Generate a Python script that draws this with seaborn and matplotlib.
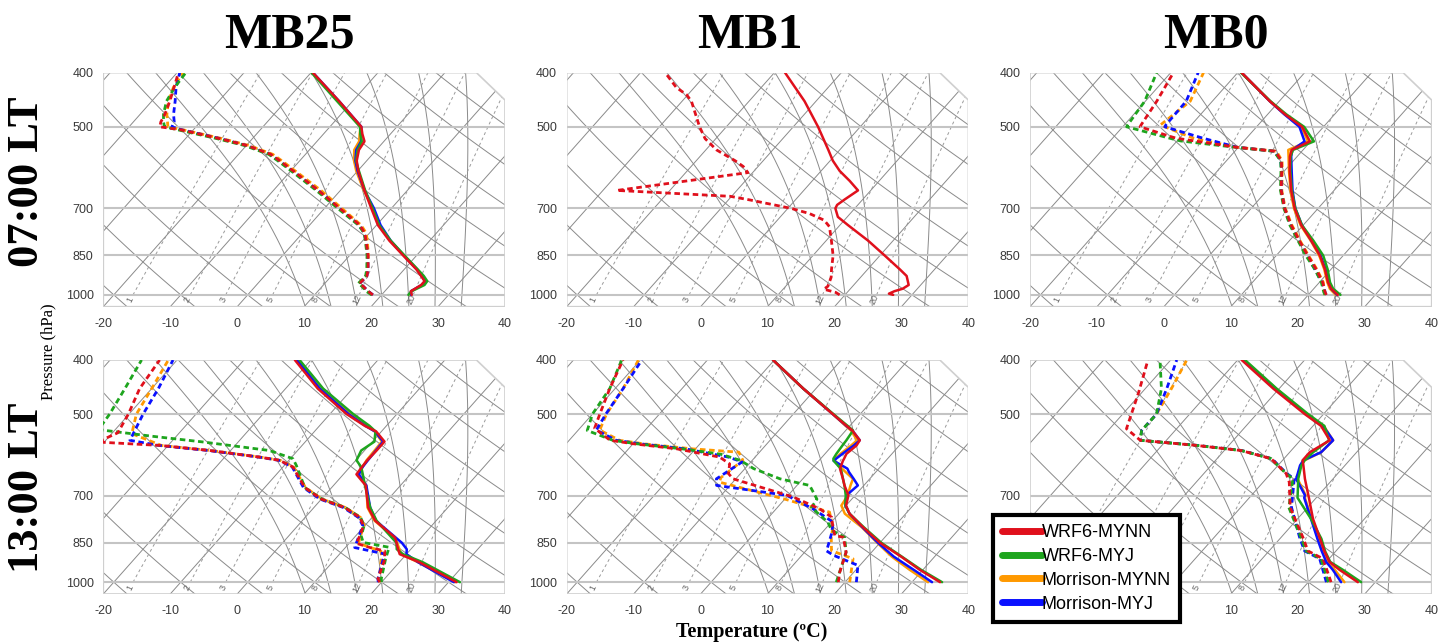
import numpy as np
import pandas as pd
import matplotlib
matplotlib.use("Agg")
import matplotlib.pyplot as plt
import seaborn as sns
from matplotlib.patches import Polygon
from matplotlib.lines import Line2D

# ---------------------------------------------------------------- data
MODELS = ["WRF6-MYNN", "WRF6-MYJ", "Morrison-MYNN", "Morrison-MYJ"]
COLORS = ["#e0101c", "#1ea51e", "#ff9900", "#0a10ff"]
STATIONS = ["MB25", "MB1", "MB0"]
TIMES = ["07:00 LT", "13:00 LT"]

# MB25, 07:00 LT -------------------------------------------------------
MB25_07_P = [1000, 985, 960, 945, 925, 900, 850, 800, 750, 700, 650, 600, 575, 550, 531, 515, 500, 450, 400]
MB25_07_T_MYNN = [24.5, 23.9, 24.6, 24.6, 23.4, 21.8, 18.0, 14.0, 10.2, 7.0, 3.6, 0.1, -1.5, -2.6, -2.9, -4.2, -5.3, -12.0, -19.7]
MB25_07_T_MYJ = [24.0, 24.0, 25.1, 25.0, 23.8, 22.0, 18.2, 14.2, 10.4, 7.2, 3.7, 0.2, -1.6, -2.8, -3.3, -4.5, -5.5, -12.3, -19.9]
MB25_07_T_MMYNN = [24.3, 23.9, 24.8, 24.8, 23.6, 21.9, 18.1, 14.1, 10.4, 7.2, 3.5, -0.2, -1.9, -3.3, -3.7, -4.6, -5.4, -12.1, -19.8]
MB25_07_T_MMYJ = [24.4, 23.9, 24.7, 24.7, 23.5, 21.9, 18.1, 14.2, 10.6, 7.4, 3.6, 0.0, -1.7, -3.0, -3.4, -4.4, -5.3, -12.0, -19.7]
MB25_07_PD = [1000, 985, 965, 955, 925, 900, 850, 800, 775, 750, 700, 650, 600, 575, 560, 540, 525, 506, 500, 490, 475, 450, 425, 400]
MB25_07_TD_MYNN = [18.7, 17.5, 16.1, 15.2, 15.3, 14.6, 12.75, 10.5, 9.3, 7.5, 2.3, -3.3, -9.6, -13.0, -15.2, -19.95, -24.9, -32.0, -35.4, -35.9, -36.3, -37.3, -38.5, -39.8]
MB25_07_TD_MYJ = [18.5, 17.2, 15.9, 15.0, 15.1, 14.4, 12.6, 10.4, 9.2, 7.3, 2.0, -3.6, -9.9, -13.3, -15.5, -20.3, -25.3, -32.4, -34.7, -35.5, -36.5, -37.8, -38.4, -38.7]
MB25_07_TD_MMYNN = [18.6, 17.4, 16.0, 15.1, 15.2, 14.5, 12.8, 10.7, 9.5, 7.7, 2.6, -2.9, -9.3, -12.7, -14.9, -19.6, -24.5, -31.6, -34.2, -34.9, -36.0, -37.5, -38.6, -39.1]
MB25_07_TD_MMYJ = [18.7, 17.5, 16.1, 15.2, 15.3, 14.6, 12.7, 10.5, 9.2, 7.4, 2.2, -3.3, -9.7, -13.1, -15.3, -20.0, -24.8, -31.8, -33.6, -33.9, -35.0, -36.5, -38.2, -39.6]

# MB1, 07:00 LT (WRF6-MYNN only) ---------------------------------------
MB1_07_P = [1000, 995, 985, 975, 960, 925, 900, 850, 800, 750, 725, 700, 690, 675, 650, 625, 600, 575, 550, 500, 450, 400]
MB1_07_T_MYNN = [27.2, 26.4, 26.9, 27.8, 28.2, 26.7, 24.8, 20.7, 16.3, 11.2, 8.6, 7.1, 6.9, 7.3, 8.1, 5.6, 2.8, 0.4, -1.7, -6.3, -11.7, -18.4]
MB1_07_PD = [1000, 990, 977, 965, 930, 900, 850, 800, 755, 735, 715, 700, 676, 666, 650, 604, 589, 575, 550, 525, 500, 450, 438, 425, 400]
MB1_07_TD_MYNN = [19.2, 18.3, 16.1, 16.3, 15.6, 14.6, 13.0, 10.8, 8.65, 7.0, 3.9, 0.5, -6.8, -10.2, -27.9, -10.7, -12.2, -14.2, -18.4, -21.6, -24.0, -28.6, -30.2, -32.7, -36.3]

# MB0, 07:00 LT --------------------------------------------------------
MB0_07_P = [1000, 975, 950, 900, 850, 800, 750, 700, 650, 600, 565, 550, 531, 500, 475, 450, 400]
MB0_07_T_MYNN = [24.4, 22.6, 21.3, 19.1, 16.5, 13.3, 9.7, 6.5, 3.6, 0.8, -1.1, -1.7, -0.1, -3.2, -7.4, -11.4, -19.4]
MB0_07_T_MYJ = [24.8, 22.9, 21.6, 19.5, 17.0, 13.6, 9.8, 6.6, 3.7, 0.9, -1.0, -1.5, 0.5, -2.9, -7.2, -11.3, -19.5]
MB0_07_T_MMYNN = [24.1, 22.4, 21.2, 19.0, 16.4, 13.2, 9.6, 6.4, 3.5, 0.7, -1.3, -2.2, -0.4, -3.3, -7.4, -11.4, -19.4]
MB0_07_T_MMYJ = [24.3, 22.6, 21.4, 19.2, 16.6, 13.3, 9.8, 6.6, 3.8, 1.1, -0.9, -1.6, -0.9, -3.6, -7.5, -11.4, -19.4]
MB0_07_PD = [1000, 990, 950, 900, 850, 800, 750, 700, 650, 600, 575, 553, 544, 530, 524, 520, 500, 496, 450, 400]
MB0_07_TD_MYNN = [22.7, 22.2, 20.5, 17.8, 14.7, 11.5, 8.2, 5.0, 2.1, -0.4, -1.8, -4.0, -10.3, -17.4, -20.5, -21.7, -27.4, -27.5, -28.3, -29.6]
MB0_07_TD_MYJ = [22.5, 22.0, 20.3, 17.6, 14.4, 11.3, 8.0, 4.9, 2.0, -0.5, -1.9, -4.2, -10.5, -19.5, -21.5, -22.8, -29.4, -29.5, -30.1, -32.1]
MB0_07_TD_MMYNN = [22.4, 22.1, 20.6, 17.9, 14.8, 11.6, 8.3, 5.1, 2.2, -0.3, -1.7, -3.8, -10.1, -15.7, -17.9, -18.9, -23.7, -24.6, -23.3, -25.1]
MB0_07_TD_MMYJ = [22.6, 22.2, 20.4, 17.6, 14.6, 11.4, 8.1, 5.0, 2.1, -0.4, -1.9, -4.1, -10.2, -14.6, -16.5, -17.7, -23.7, -23.8, -23.9, -25.9]

# MB25, 13:00 LT -------------------------------------------------------
MB25_13_P = [1000, 921, 891, 873, 850, 832, 776, 735, 671, 641, 622, 605, 581, 560, 537, 525, 500, 450, 400]
MB25_13_T_MYNN = [31.2, 23.0, 19.0, 18.1, 17.0, 16.1, 10.9, 8.1, 4.8, 1.95, 1.8, 1.7, 1.8, 1.8, -0.8, -3.2, -7.5, -15.2, -22.4]
MB25_13_T_MYJ = [31.7, 23.5, 19.5, 17.9, 17.0, 15.6, 11.1, 8.4, 4.7, 2.9, 1.7, 0.1, -0.5, 0.3, -0.9, -2.5, -6.5, -14.4, -21.7]
MB25_13_T_MMYNN = [31.0, 22.8, 19.2, 18.3, 17.1, 16.0, 10.8, 8.0, 4.9, 2.2, 1.9, 1.6, 1.5, 1.4, -1.0, -3.0, -7.0, -14.8, -22.0]
MB25_13_T_MMYJ = [30.8, 22.8, 20.0, 19.4, 17.8, 16.2, 11.0, 8.4, 4.9, 2.3, 1.9, 1.8, 1.7, 1.6, -1.0, -3.1, -7.2, -14.9, -22.1]
MB25_13_PD_MYNN = [1000, 986, 908, 879, 867, 852, 826, 792, 766, 735, 710, 677, 622, 605, 597, 581, 569, 561, 540, 500, 450, 400]
MB25_13_TD_MYNN = [19.7, 19.0, 17.4, 16.3, 13.7, 11.1, 10.6, 9.8, 8.2, 4.6, 0.0, -4.0, -8.5, -11.4, -14.8, -23.1, -31.2, -41.0, -39.2, -40.1, -41.8, -42.6]
MB25_13_PD_MYJ = [1000, 986, 908, 866, 849, 826, 792, 766, 735, 710, 677, 618, 601, 581, 561, 548, 533, 500, 450, 400]
MB25_13_TD_MYJ = [20.0, 19.5, 17.5, 16.5, 12.0, 10.8, 9.9, 8.3, 4.7, 0.1, -4.0, -8.2, -9.6, -14.2, -25.2, -33.5, -42.5, -42.9, -44.0, -45.3]
MB25_13_PD_MMYNN = [1000, 986, 897, 880, 852, 826, 792, 766, 735, 710, 677, 622, 605, 597, 581, 569, 542, 500, 450, 400]
MB25_13_TD_MMYNN = [19.9, 19.2, 16.5, 15.8, 11.4, 10.7, 9.9, 8.3, 4.7, 0.1, -3.9, -8.4, -11.3, -14.7, -23.0, -31.0, -37.0, -38.9, -40.0, -41.3]
MB25_13_PD_MMYJ = [1000, 986, 890, 867, 840, 792, 766, 735, 710, 677, 622, 605, 597, 581, 569, 557, 500, 450, 400]
MB25_13_TD_MMYJ = [19.5, 19.0, 16.7, 11.4, 10.8, 9.7, 8.0, 4.4, -0.2, -4.2, -8.6, -11.5, -14.9, -23.3, -31.4, -36.4, -37.9, -39.0, -40.6]

# MB1, 13:00 LT --------------------------------------------------------
MB1_13_P = [1000, 950, 900, 850, 797, 754, 729, 699, 671, 653, 635, 626, 606, 601, 589, 569, 557, 535, 525, 500, 450, 400]
MB1_13_T_MYNN = [34.2, 29.5, 25.0, 20.0, 15.4, 11.6, 10.0, 9.0, 7.1, 6.0, 4.8, 4.2, 3.6, 3.5, 3.2, 3.6, 3.4, 1.0, -0.45, -4.1, -11.9, -20.2]
MB1_13_T_MYJ = [34.5, 29.7, 25.1, 20.2, 15.5, 11.6, 9.9, 8.6, 7.1, 6.0, 4.9, 4.3, 2.2, 1.9, 1.7, 1.5, 1.4, 1.1, -0.3, -4.0, -11.9, -20.2]
MB1_13_T_MMYNN = [32.4, 28.0, 23.6, 19.6, 15.2, 10.9, 9.3, 8.9, 8.0, 7.5, 5.5, 4.5, 2.4, 2.2, 2.3, 2.8, 3.0, 0.8, -0.6, -4.1, -11.9, -20.2]
MB1_13_T_MMYJ = [33.0, 28.6, 23.9, 19.7, 15.3, 11.6, 9.9, 8.7, 9.1, 7.6, 6.0, 5.3, 2.2, 2.3, 2.6, 3.2, 3.4, 1.0, -0.5, -4.1, -11.9, -20.2]
MB1_13_PD_MYNN = [1000, 960, 884, 831, 825, 797, 765, 739, 704, 653, 639, 614, 597, 577, 565, 557, 530, 500, 450, 400]
MB1_13_TD_MYNN = [19.0, 17.9, 16.2, 13.8, 12.3, 10.9, 9.4, 6.5, 1.0, -10.4, -11.8, -12.9, -15.3, -22.8, -30.0, -33.9, -37.8, -38.9, -40.8, -42.6]
MB1_13_PD_MYJ = [1000, 884, 831, 807, 781, 735, 710, 671, 653, 626, 605, 590, 577, 565, 557, 535, 500, 450, 400]
MB1_13_TD_MYJ = [18.7, 16.2, 14.0, 11.1, 9.5, 5.1, 4.8, 1.9, -3.4, -8.7, -11.8, -15.5, -22.0, -29.5, -33.5, -38.6, -40.0, -40.8, -42.8]
MB1_13_PD_MMYNN = [1000, 908, 878, 831, 797, 749, 710, 662, 650, 605, 585, 577, 565, 557, 534, 500, 450, 400]
MB1_13_TD_MMYNN = [20.7, 18.1, 13.8, 12.0, 10.9, 8.4, 0.0, -12.0, -12.4, -11.4, -13.1, -20.5, -28.5, -32.5, -36.8, -37.9, -38.8, -40.3]
MB1_13_PD_MMYJ = [1000, 933, 895, 879, 820, 781, 739, 699, 671, 653, 609, 597, 577, 565, 557, 534, 500, 450, 400]
MB1_13_TD_MMYJ = [21.7, 19.7, 14.7, 13.1, 11.6, 10.3, 5.5, -0.2, -12.0, -12.9, -11.3, -14.0, -21.5, -29.0, -33.0, -37.3, -38.0, -38.8, -39.8]

# MB0, 13:00 LT --------------------------------------------------------
MB0_13_P = [1000, 950, 920, 880, 836, 770, 706, 699, 653, 618, 605, 585, 557, 525, 500, 450, 400]
MB0_13_T_MYNN = [27.4, 23.0, 20.5, 18.3, 16.0, 12.3, 8.9, 8.5, 5.8, 3.8, 3.0, 3.0, 4.4, 1.2, -2.8, -10.9, -19.4]
MB0_13_T_MYJ = [27.9, 23.5, 20.6, 18.4, 16.2, 12.0, 7.2, 6.9, 4.8, 3.5, 3.3, 3.5, 4.3, 1.7, -2.3, -10.4, -18.9]
MB0_13_T_MMYNN = [25.4, 22.3, 20.2, 18.0, 15.7, 12.1, 8.3, 8.1, 4.7, 3.4, 3.3, 4.7, 4.9, 1.6, -2.5, -10.5, -19.1]
MB0_13_T_MMYJ = [24.9, 22.0, 20.0, 17.9, 15.6, 12.0, 8.2, 8.0, 4.5, 3.3, 3.1, 4.7, 4.9, 1.5, -2.6, -10.6, -19.2]
MB0_13_PD_MYNN = [1000, 908, 879, 832, 735, 662, 639, 618, 601, 581, 569, 557, 531, 500, 457, 400]
MB0_13_TD_MYNN = [23.4, 19.1, 15.8, 13.3, 7.4, 3.9, 2.3, 0.0, -1.9, -7.5, -14.8, -23.9, -27.5, -28.7, -30.5, -33.4]
MB0_13_PD = [1000, 908, 879, 832, 735, 653, 639, 618, 601, 581, 569, 557, 535, 500, 450, 400]
MB0_13_TD_MYJ = [23.0, 18.8, 15.5, 13.0, 7.2, 4.0, 2.3, 0.0, -1.9, -7.5, -14.8, -23.9, -25.0, -24.95, -27.6, -31.6]
MB0_13_TD_MMYNN = [22.9, 18.8, 15.5, 13.0, 7.5, 4.1, 2.3, 0.0, -1.8, -7.4, -14.6, -23.9, -25.0, -24.95, -26.1, -27.6]
MB0_13_TD_MMYJ = [22.7, 18.6, 15.3, 12.8, 7.6, 4.2, 2.4, 0.1, -1.8, -7.4, -14.6, -23.9, -25.0, -24.95, -26.8, -29.1]

PANELS = {
    (0, 0): [("WRF6-MYNN", MB25_07_P, MB25_07_T_MYNN, MB25_07_PD, MB25_07_TD_MYNN),
             ("WRF6-MYJ", MB25_07_P, MB25_07_T_MYJ, MB25_07_PD, MB25_07_TD_MYJ),
             ("Morrison-MYNN", MB25_07_P, MB25_07_T_MMYNN, MB25_07_PD, MB25_07_TD_MMYNN),
             ("Morrison-MYJ", MB25_07_P, MB25_07_T_MMYJ, MB25_07_PD, MB25_07_TD_MMYJ)],
    (0, 1): [("WRF6-MYNN", MB1_07_P, MB1_07_T_MYNN, MB1_07_PD, MB1_07_TD_MYNN)],
    (0, 2): [("WRF6-MYNN", MB0_07_P, MB0_07_T_MYNN, MB0_07_PD, MB0_07_TD_MYNN),
             ("WRF6-MYJ", MB0_07_P, MB0_07_T_MYJ, MB0_07_PD, MB0_07_TD_MYJ),
             ("Morrison-MYNN", MB0_07_P, MB0_07_T_MMYNN, MB0_07_PD, MB0_07_TD_MMYNN),
             ("Morrison-MYJ", MB0_07_P, MB0_07_T_MMYJ, MB0_07_PD, MB0_07_TD_MMYJ)],
    (1, 0): [("WRF6-MYNN", MB25_13_P, MB25_13_T_MYNN, MB25_13_PD_MYNN, MB25_13_TD_MYNN),
             ("WRF6-MYJ", MB25_13_P, MB25_13_T_MYJ, MB25_13_PD_MYJ, MB25_13_TD_MYJ),
             ("Morrison-MYNN", MB25_13_P, MB25_13_T_MMYNN, MB25_13_PD_MMYNN, MB25_13_TD_MMYNN),
             ("Morrison-MYJ", MB25_13_P, MB25_13_T_MMYJ, MB25_13_PD_MMYJ, MB25_13_TD_MMYJ)],
    (1, 1): [("WRF6-MYNN", MB1_13_P, MB1_13_T_MYNN, MB1_13_PD_MYNN, MB1_13_TD_MYNN),
             ("WRF6-MYJ", MB1_13_P, MB1_13_T_MYJ, MB1_13_PD_MYJ, MB1_13_TD_MYJ),
             ("Morrison-MYNN", MB1_13_P, MB1_13_T_MMYNN, MB1_13_PD_MMYNN, MB1_13_TD_MMYNN),
             ("Morrison-MYJ", MB1_13_P, MB1_13_T_MMYJ, MB1_13_PD_MMYJ, MB1_13_TD_MMYJ)],
    (1, 2): [("WRF6-MYNN", MB0_13_P, MB0_13_T_MYNN, MB0_13_PD_MYNN, MB0_13_TD_MYNN),
             ("WRF6-MYJ", MB0_13_P, MB0_13_T_MYJ, MB0_13_PD, MB0_13_TD_MYJ),
             ("Morrison-MYNN", MB0_13_P, MB0_13_T_MMYNN, MB0_13_PD, MB0_13_TD_MMYNN),
             ("Morrison-MYJ", MB0_13_P, MB0_13_T_MMYJ, MB0_13_PD, MB0_13_TD_MMYJ)],
}

# background line sets
P_LEVELS = [400, 500, 700, 850, 1000]
T_TICKS = [-20, -10, 0, 10, 20, 30, 40]
MIX_RATIOS = [1, 2, 3, 5, 8, 12, 20]
MOIST_T1000 = [8, 12, 16, 20, 24, 28, 32]

# ---------------------------------------------------------------- skew-T geometry
P_TOP, P_BOT = 400.0, 1050.0


def skew_y(p):
    return 132.182 - 44.061 * np.log10(np.asarray(p, dtype=float))


def skew_x(t, p):
    return 0.54 * np.asarray(t, dtype=float) + 0.90692 * skew_y(p)


X0, X1 = float(skew_x(-20, P_BOT)), float(skew_x(40, P_BOT))
Y0, Y1 = float(skew_y(P_BOT)), float(skew_y(P_TOP))


def dewpoint_from_w(w, p):
    e = w * np.asarray(p, dtype=float) / (622.0 + w)
    a = np.log(e / 6.112)
    return 243.5 * a / (17.67 - a)


def _moist_rate(t, p):
    tk = t + 273.15
    es = 6.112 * np.exp(17.67 * t / (t + 243.5))
    rs = 0.622 * es / (p - es)
    num = 287.04 * tk + 2.501e6 * rs
    den = 1005.7 + (2.501e6 ** 2) * rs * 0.622 / (287.04 * tk ** 2)
    return num / (den * p)


def moist_adiabat(t0, p_end, n=160):
    ps = np.linspace(1000.0, p_end, n)
    ts = np.empty(n)
    ts[0] = t0
    for i in range(n - 1):
        h = ps[i + 1] - ps[i]
        t, pp = ts[i], ps[i]
        k1 = _moist_rate(t, pp)
        k2 = _moist_rate(t + h * k1 / 2, pp + h / 2)
        k3 = _moist_rate(t + h * k2 / 2, pp + h / 2)
        k4 = _moist_rate(t + h * k3, pp + h)
        ts[i + 1] = t + h * (k1 + 2 * k2 + 2 * k3 + k4) / 6
    return ps, ts


GRID = "#8a8a8a"
PLINE = "#c4c4c4"
FRAME = "#cfcfcf"


def draw_background(ax):
    xc = X0 + 0.929 * (X1 - X0)
    yc = Y0 + 0.883 * (Y1 - Y0)
    outline = [(X0, Y0), (X0, Y1), (xc, Y1), (X1, yc), (X1, Y0)]
    clip = Polygon(outline, closed=True, transform=ax.transData, facecolor="none", edgecolor="none")
    ax.add_patch(clip)

    def add(xs, ys, **kw):
        ln, = ax.plot(xs, ys, **kw)
        ln.set_clip_path(clip)

    pp = np.linspace(P_BOT, P_TOP, 120)
    # isotherms
    for t in range(-100, 60, 10):
        add(skew_x([t, t], [P_BOT, P_TOP]), skew_y([P_BOT, P_TOP]), color=GRID, lw=0.7, zorder=1)
    # dry adiabats
    for th in range(-30, 110, 10):
        tt = (th + 273.15) * (pp / 1000.0) ** 0.2857 - 273.15
        add(skew_x(tt, pp), skew_y(pp), color=GRID, lw=0.7, zorder=1)
    # saturated (pseudo) adiabats
    for t0 in MOIST_T1000:
        pu, tu = moist_adiabat(t0, P_TOP)
        pd_, td_ = moist_adiabat(t0, P_BOT, n=12)
        ps = np.concatenate([pd_[::-1], pu[1:]])
        ts = np.concatenate([td_[::-1], tu[1:]])
        add(skew_x(ts, ps), skew_y(ps), color=GRID, lw=0.7, zorder=1)
    # mixing-ratio lines
    pm = np.linspace(1000, P_TOP, 40)
    for w in MIX_RATIOS:
        tdw = dewpoint_from_w(w, pm)
        add(skew_x(tdw, pm), skew_y(pm), color="#9a9a9a", lw=0.7,
            linestyle=(0, (3, 3)), zorder=1)
        pl = 1021.0
        ax.text(float(skew_x(dewpoint_from_w(w, pl), pl)), float(skew_y(pl)), str(w),
                rotation=65, fontsize=6.5, color="#666666", ha="center", va="center", zorder=2)
    # pressure lines
    for p in [1000, 850, 700, 500]:
        ax.plot([X0, X1], [skew_y(p)] * 2, color=PLINE, lw=1.5, zorder=1.2)
    ax.add_patch(Polygon(outline, closed=True, facecolor="none", edgecolor=FRAME, lw=1.2, zorder=1.3))


# ---------------------------------------------------------------- figure
sns.set_theme(style="white")
plt.rcParams["font.family"] = ["Liberation Sans", "DejaVu Sans"]
plt.rcParams["text.color"] = "black"

W, H = 1454, 642
fig = plt.figure(figsize=(W / 100, H / 100), dpi=100)

col_left = [103.3, 566.7, 1030.0]
row_top = [72.7, 360.0]
pw, ph = 401.7, 234.0

SOLID_LW = 1.8
DASH = (0, (2.0, 1.3))
draw_order = ["Morrison-MYNN", "Morrison-MYJ", "WRF6-MYJ", "WRF6-MYNN"]
color_of = dict(zip(MODELS, COLORS))

for (r, c), series in PANELS.items():
    ax = fig.add_axes([col_left[c] / W, 1 - (row_top[r] + ph) / H, pw / W, ph / H])
    ax.set_xlim(X0, X1)
    ax.set_ylim(Y0, Y1)
    draw_background(ax)

    by_model = {s[0]: s for s in series}
    for name in draw_order:
        if name not in by_model:
            continue
        _, p_t, t, p_d, td = by_model[name]
        dft = pd.DataFrame({"x": skew_x(t, p_t), "y": skew_y(p_t)})
        dfd = pd.DataFrame({"x": skew_x(td, p_d), "y": skew_y(p_d)})
        sns.lineplot(data=dfd, x="x", y="y", sort=False, estimator=None, ax=ax,
                     color=color_of[name], lw=2.0, linestyle=DASH, legend=False, zorder=3)
        sns.lineplot(data=dft, x="x", y="y", sort=False, estimator=None, ax=ax,
                     color=color_of[name], lw=SOLID_LW, legend=False, zorder=4)

    # the legend box sits over the left part of the lower-right temperature axis
    shown = T_TICKS if (r, c) != (1, 2) else [v for v in T_TICKS if v >= 10]
    ax.set_xticks(skew_x(shown, P_BOT))
    ax.set_xticklabels([str(v) for v in shown])
    ax.set_yticks(skew_y(P_LEVELS))
    ax.set_yticklabels([str(v) for v in P_LEVELS])
    ax.tick_params(axis="x", direction="in", length=5, width=0.8, color="#9a9a9a",
                   pad=8, labelsize=9, labelcolor="#3a3a3a")
    ax.tick_params(axis="y", length=0, pad=7, labelsize=9, labelcolor="#3a3a3a")
    ax.set_xlabel("")
    ax.set_ylabel("")
    for s in ax.spines.values():
        s.set_visible(False)
    ax.grid(False)
    ax.set_facecolor("none")

# titles and axis annotations
serif = ["Liberation Serif", "DejaVu Serif"]
for name, xc in zip(STATIONS, [289, 750, 1216]):
    fig.text(xc / W, 1 - 48 / H, name, ha="center", va="baseline", fontsize=36,
             fontweight="bold", family=serif, color="black")
for name, yc in zip(TIMES, [182, 488]):
    fig.text(27 / W, 1 - yc / H, name, ha="center", va="center", rotation=90,
             fontsize=32, fontweight="bold", family=serif, color="black")
fig.text(48 / W, 1 - 352 / H, "Pressure (hPa)", ha="center", va="center", rotation=90,
         fontsize=12, family=serif, color="black")
fig.text(752 / W, 1 - 637 / H, "Temperature (ºC)", ha="center", va="baseline",
         fontsize=14.5, fontweight="bold", family=serif, color="black")

handles = [Line2D([0], [0], color=col, lw=5, solid_capstyle="round") for col in COLORS]
leg = fig.legend(handles, MODELS, loc="upper left", bbox_to_anchor=(993 / W, 1 - 515 / H),
                 frameon=True, fancybox=False, edgecolor="black", framealpha=1,
                 fontsize=13, handlelength=2.2, handletextpad=0.0, labelspacing=0.38,
                 borderpad=0.5, borderaxespad=0.0)
leg.get_frame().set_linewidth(3)
for txt in leg.get_texts():
    txt.set_color("black")

fig.savefig("out.png", dpi=100)
